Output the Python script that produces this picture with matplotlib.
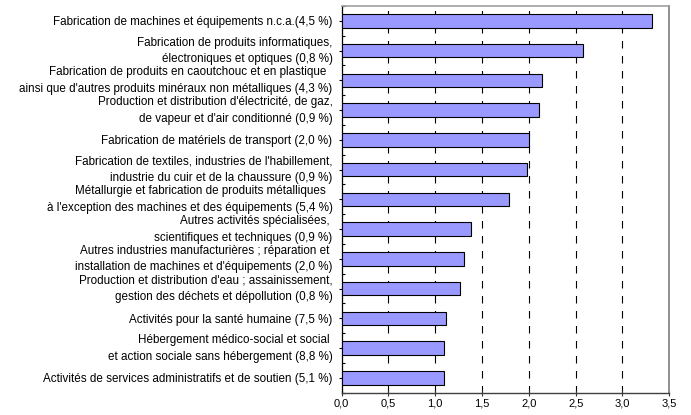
import matplotlib
matplotlib.use("Agg")
import matplotlib.pyplot as plt
import matplotlib.transforms as mtransforms
import numpy as np

plt.rcParams['font.family'] = ['Liberation Sans', 'DejaVu Sans']
plt.rcParams['lines.scale_dashes'] = False

categories = [
    "Fabrication de machines et équipements n.c.a.(4,5 %)",
    "Fabrication de produits informatiques,\nélectroniques et optiques (0,8 %)",
    "Fabrication de produits en caoutchouc et en plastique  \nainsi que d'autres produits minéraux non métalliques (4,3 %)",
    "Production et distribution d'électricité, de gaz,\nde vapeur et d'air conditionné (0,9 %)",
    "Fabrication de matériels de transport (2,0 %)",
    "Fabrication de textiles, industries de l'habillement,\nindustrie du cuir et de la chaussure (0,9 %)",
    "Métallurgie et fabrication de produits métalliques  \nà l'exception des machines et des équipements (5,4 %)",
    "Autres activités spécialisées, \nscientifiques et techniques (0,9 %)",
    "Autres industries manufacturières ; réparation et \ninstallation de machines et d'équipements (2,0 %)",
    "Production et distribution d'eau ; assainissement,\ngestion des déchets et dépollution (0,8 %)",
    "Activités pour la santé humaine (7,5 %)",
    "Hébergement médico-social et social \net action sociale sans hébergement (8,8 %)",
    "Activités de services administratifs et de soutien (5,1 %)",
]
values = [3.32, 2.58, 2.14, 2.11, 2.00, 1.985, 1.79, 1.38, 1.305, 1.26, 1.12, 1.09, 1.09]
xticks = [0.0, 0.5, 1.0, 1.5, 2.0, 2.5, 3.0, 3.5]
xticklabels = ["0,0", "0,5", "1,0", "1,5", "2,0", "2,5", "3,0", "3,5"]

fig = plt.figure(figsize=(6.91, 4.15), dpi=100)
ax = fig.add_axes([341.5/691, 1 - 392.7/415, (669.3 - 341.5)/691, (392.7 - 6)/415])

n = len(categories)
y = np.arange(n)
ax.barh(y, values, height=0.45, color='#9999FF', edgecolor='#000000', linewidth=0.8, zorder=3)

ax.set_ylim(n - 0.5, -0.5)
ax.set_xlim(0, 3.5)

for xv in xticks[1:-1]:
    ax.axvline(xv, color='black', linewidth=0.8, linestyle=(0, (5.4, 5.4)), zorder=1)

ax.set_yticks(y)
ax.set_yticklabels(categories, fontsize=8.35, multialignment='right', linespacing=1.5)
ax.set_yticks(np.arange(n + 1) - 0.5, minor=True)
ax.tick_params(axis='y', which='major', direction='out', length=2.5, width=0.8, pad=4, color='black')
ax.tick_params(axis='y', which='minor', direction='in', length=2.5, width=0.8, color='black')

shift = mtransforms.ScaledTranslation(0, 3.5 / 100, fig.dpi_scale_trans)
for lab in ax.get_yticklabels():
    if '\n' in lab.get_text():
        lab.set_transform(lab.get_transform() + shift)

ax.set_xticks(xticks)
ax.set_xticklabels(xticklabels, fontsize=8)
ax.tick_params(axis='x', which='major', direction='inout', length=4, width=0.8, pad=2.5, color='#333333')

ax.spines['left'].set_color('black')
ax.spines['left'].set_linewidth(0.9)
ax.spines['bottom'].set_color('#404040')
ax.spines['bottom'].set_linewidth(1.0)
ax.spines['top'].set_color('#A0A0A0')
ax.spines['top'].set_linewidth(1.2)
ax.spines['right'].set_color('#909090')
ax.spines['right'].set_linewidth(1.4)

fig.savefig('out.png', dpi=100)
